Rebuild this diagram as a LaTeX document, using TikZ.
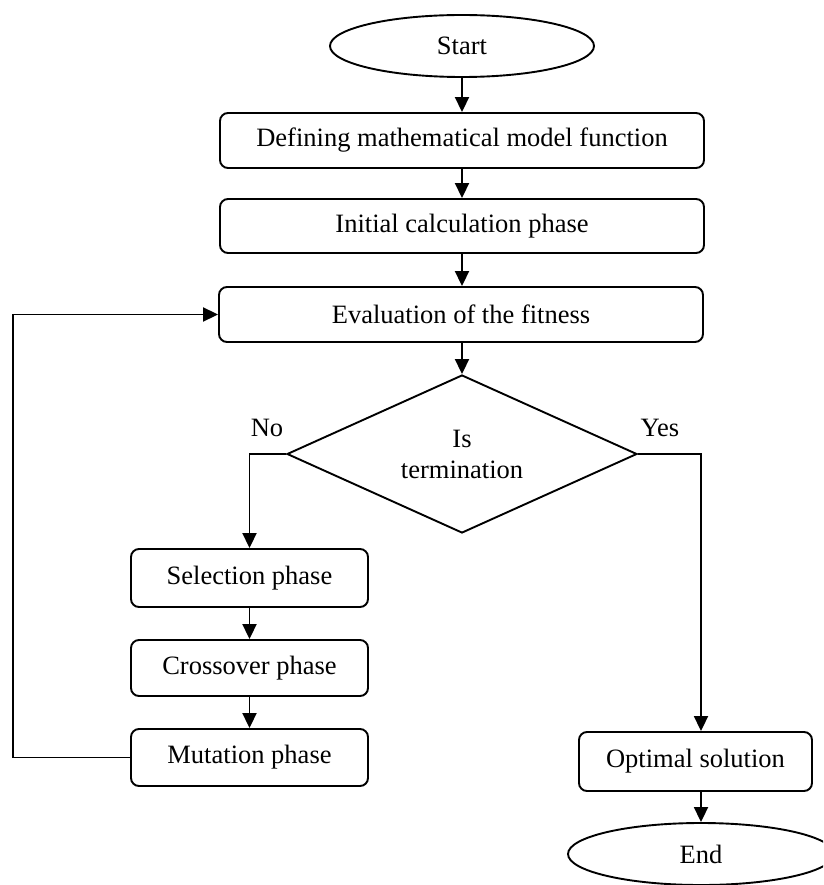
\documentclass[tikz,border=0pt]{standalone}
\usepackage{fontspec}
\setmainfont{Liberation Serif}
\usetikzlibrary{shapes.geometric,arrows.meta}
\tikzset{
  every node/.style={font=\fontsize{26.5}{31}\selectfont},
  flowline/.style={line width=1.9pt, draw=black},
  arr/.style={flowline, -{Triangle[length=15pt,width=14pt]}},
  procbox/.style={draw, line width=1.9pt, rounded corners=8pt, rectangle, inner sep=0pt, align=center},
  termnode/.style={draw, line width=1.9pt, ellipse, inner sep=0pt},
  decnode/.style={draw, line width=1.9pt, diamond, aspect=2.2, inner sep=0pt, align=center, minimum width=350pt, minimum height=158pt},
  lbl/.style={inner sep=0pt}
}
\begin{document}
\begin{tikzpicture}[x=1pt,y=-1pt]
\useasboundingbox (0,0) rectangle (823,885);
\fill[white] (0,0) rectangle (823,885);
\clip (0,0) rectangle (823,885);

\node[termnode, minimum width=264pt, minimum height=62pt] (start) at (462,46) {Start};
\node[procbox, minimum width=484pt, minimum height=55pt] (def) at (462,140.5) {Defining mathematical model function};
\node[procbox, minimum width=484pt, minimum height=54pt] (init) at (462,226) {Initial calculation phase};
\node[procbox, minimum width=484pt, minimum height=55pt] (eval) at (461,314.5) {Evaluation of the fitness};
\node[decnode] (dec) at (462,454) {Is\\termination};
\node[procbox, minimum width=237pt, minimum height=58pt] (sel) at (249.5,578) {Selection phase};
\node[procbox, minimum width=237pt, minimum height=56pt] (cro) at (249.5,668) {Crossover phase};
\node[procbox, minimum width=237pt, minimum height=57pt] (mut) at (249.5,757.5) {Mutation phase};
\node[procbox, minimum width=233pt, minimum height=59pt] (opt) at (695.5,761.5) {Optimal solution};
\node[termnode, minimum width=266pt, minimum height=62pt] (end) at (701,854) {End};

\node[lbl] (no) at (267,428) {No};
\node[lbl] (yes) at (660,428) {Yes};

\coordinate (fbx) at (13,0);
\coordinate (yx) at (701,0);
\coordinate (cx) at (462,0);

\draw[arr] (start.south) -- (def.north);
\draw[arr] (def.south) -- (init.north);
\draw[arr] (cx |- init.south) -- (cx |- eval.north);
\draw[arr] (cx |- eval.south) -- (dec.north);
\draw[arr] (dec.west) -| (sel.north);
\draw[arr] (sel.south) -- (cro.north);
\draw[arr] (cro.south) -- (mut.north);
\draw[arr] (mut.west) -- (mut.west -| fbx) |- (eval.west);
\draw[arr] (dec.east) -| (yx |- opt.north);
\draw[arr] (yx |- opt.south) -- (end.north);
\end{tikzpicture}
\end{document}
